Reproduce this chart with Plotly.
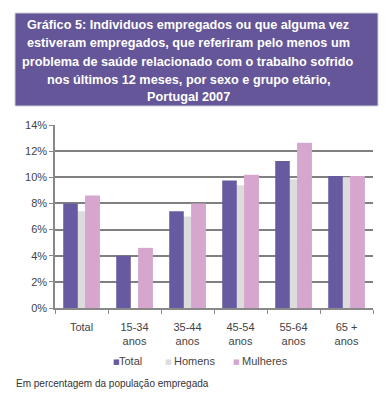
import plotly.graph_objects as go

categories = ["Total", "15-34<br>anos", "35-44<br>anos", "45-54<br>anos", "55-64<br>anos", "65 +<br>anos"]
total = [8.0, 4.0, 7.4, 9.75, 11.25, 10.1]
homens = [7.4, None, 7.0, 9.4, 9.85, 10.0]
mulheres = [8.6, 4.6, 8.0, 10.2, 12.65, 10.1]
y_ticks = [0, 2, 4, 6, 8, 10, 12, 14]
y_labels = ["0%", "2%", "4%", "6%", "8%", "10%", "12%", "14%"]
series_names = ["Total", "Homens", "Mulheres"]
title_lines = [
    "Gráfico 5: Individuos empregados ou que alguma vez",
    "estiveram empregados, que referiram pelo menos um",
    "problema de saúde relacionado com o trabalho sofrido",
    "nos últimos 12 meses, por sexo e grupo etário,",
    "Portugal 2007",
]

PURPLE = "rgb(104,90,160)"
GRAY = "rgb(220,220,220)"
PINK = "rgb(214,166,207)"
FONT = "Arial, Liberation Sans, sans-serif"

# page body has an 8px margin; positions below are in reference pixels
OFF = 8
W, H = 389 - OFF, 400 - OFF
L, T = 55 - OFF, 125 - OFF
R = W - (373 - OFF)
B = H - (308 - OFF)
pw, ph = W - L - R, H - T - B

def px(x):
    return (x - OFF - L) / pw

def py(y):
    return (H - B - (y - OFF)) / ph

fig = go.Figure()
fig.add_bar(x=categories, y=[v / 100 if v is not None else None for v in homens], name=series_names[1],
            marker=dict(color=GRAY, line=dict(width=0)), width=0.26, offset=-0.13)
fig.add_bar(x=categories, y=[v / 100 for v in total], name=series_names[0],
            marker=dict(color=PURPLE, line=dict(width=0)), width=0.275, offset=-0.345)
fig.add_bar(x=categories, y=[v / 100 for v in mulheres], name=series_names[2],
            marker=dict(color=PINK, line=dict(width=0)), width=0.28, offset=0.068)

fig.update_layout(
    width=W, height=H,
    margin=dict(l=L, r=R, t=T, b=B),
    paper_bgcolor="white", plot_bgcolor="white",
    barmode="overlay",
    font=dict(family=FONT, size=11, color="#444"),
    showlegend=False,
    xaxis=dict(type="category", showgrid=False, showline=True, linecolor="#888", linewidth=1.5,
               ticks="outside", ticklen=4, tickcolor="#888", tickson="boundaries",
               ticklabelstandoff=8, tickfont=dict(size=11, color="#444")),
    yaxis=dict(range=[0, 0.14], tickvals=[v / 100 for v in y_ticks], ticktext=y_labels,
               showgrid=True, gridcolor="#808080", gridwidth=1.5,
               showline=True, linecolor="#888", linewidth=1.5,
               ticks="outside", ticklen=4, tickcolor="#888",
               zeroline=False, tickfont=dict(size=11, color="#444")),
)

# legend (key squares + labels)
legend_items = [(series_names[0], PURPLE, 111, 117), (series_names[1], GRAY, 163, 172), (series_names[2], PINK, 231, 240)]
for name, col, kx, tx in legend_items:
    fig.add_annotation(xref="paper", yref="paper", x=px(kx), y=py(362), xanchor="left", yanchor="middle",
                       showarrow=False, text="■", font=dict(family="DejaVu Sans", size=7, color=col))
    fig.add_annotation(xref="paper", yref="paper", x=px(tx), y=py(361), xanchor="left", yanchor="middle",
                       showarrow=False, text=name, font=dict(family=FONT, size=11, color="#444"))

fig.add_shape(type="rect", xref="paper", yref="paper",
              x0=px(15), x1=px(378), y0=py(106), y1=py(13),
              fillcolor="rgb(100,86,152)", line=dict(color="#cfcfd8", width=1), layer="below")
line_y = [25, 43, 62, 80, 97]
for txt, yy in zip(title_lines, line_y):
    fig.add_annotation(xref="paper", yref="paper", x=px(188), y=py(yy), xanchor="center", yanchor="middle",
                       showarrow=False, text="<b>" + txt + "</b>",
                       font=dict(family=FONT, size=12.7, color="white"))
fig.add_annotation(xref="paper", yref="paper", x=px(14), y=py(383), xanchor="left", yanchor="middle",
                   showarrow=False, text="Em percentagem da população empregada",
                   font=dict(family=FONT, size=10, color="#333"))

fig.write_html("out.html")
